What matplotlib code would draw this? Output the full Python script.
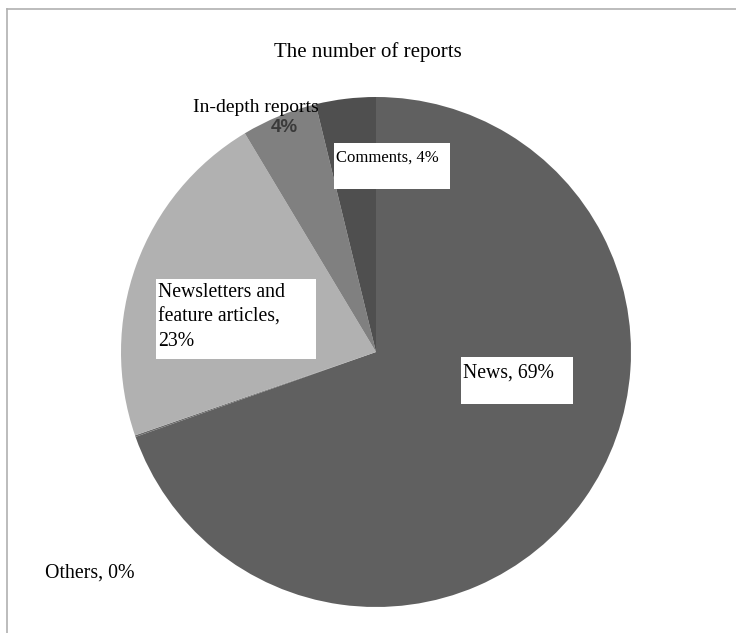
import matplotlib.pyplot as plt
from matplotlib.patches import Rectangle

labels = ['News', 'Others', 'Newsletters and feature articles', 'In-depth reports', 'Comments']
shares = [69.6, 0.1, 21.7, 4.8, 3.8]
colors = ['#606060', '#6a6a6a', '#b1b1b1', '#808080', '#4f4f4f']

H = 633
fig = plt.figure(figsize=(7.36, 6.33), dpi=100)
ax = fig.add_axes([0, 0, 1, 1])

ax.pie(shares, colors=colors, startangle=90, counterclock=False,
       center=(376, H - 352), radius=255, frame=True,
       wedgeprops=dict(linewidth=0))
ax.set_xlim(0, 736)
ax.set_ylim(0, H)
ax.set_aspect('equal')
ax.axis('off')

# outer frame (only top and left visible)
ax.plot([7, 736], [H - 9, H - 9], color='#b0b0b0', lw=1.2, clip_on=False)
ax.plot([7, 7], [H - 9, 0], color='#b0b0b0', lw=1.2, clip_on=False)

serif = 'Liberation Serif'
ax.text(368, H - 52, 'The number of reports', ha='center', va='center',
        fontsize=15, family=serif)

def boxed(x0, y0, x1, y1, txt, size, ty):
    ax.add_patch(Rectangle((x0, H - y1), x1 - x0, y1 - y0, facecolor='white',
                           edgecolor='none', zorder=3))
    ax.text(x0 + 2, H - ty, txt, ha='left', va='top', fontsize=size,
            family=serif, zorder=4, linespacing=1.4)

boxed(334, 143, 450, 189, 'Comments, 4%', 12, 150)
boxed(156, 279, 316, 359, 'Newsletters and\nfeature articles,\n23%', 14.2, 283)
boxed(461, 357, 573, 404, 'News, 69%', 14.2, 364)

ax.text(193, H - 107, 'In-depth reports', ha='left', va='center', fontsize=14, family=serif)
ax.text(284, H - 128, '4%', ha='center', va='center', fontsize=13.5, fontweight='bold',
        family='Liberation Sans', color='#3a3a3a')
ax.text(45, H - 573, 'Others, 0%', ha='left', va='center', fontsize=14.3, family=serif)

fig.savefig('out.png', dpi=100)
